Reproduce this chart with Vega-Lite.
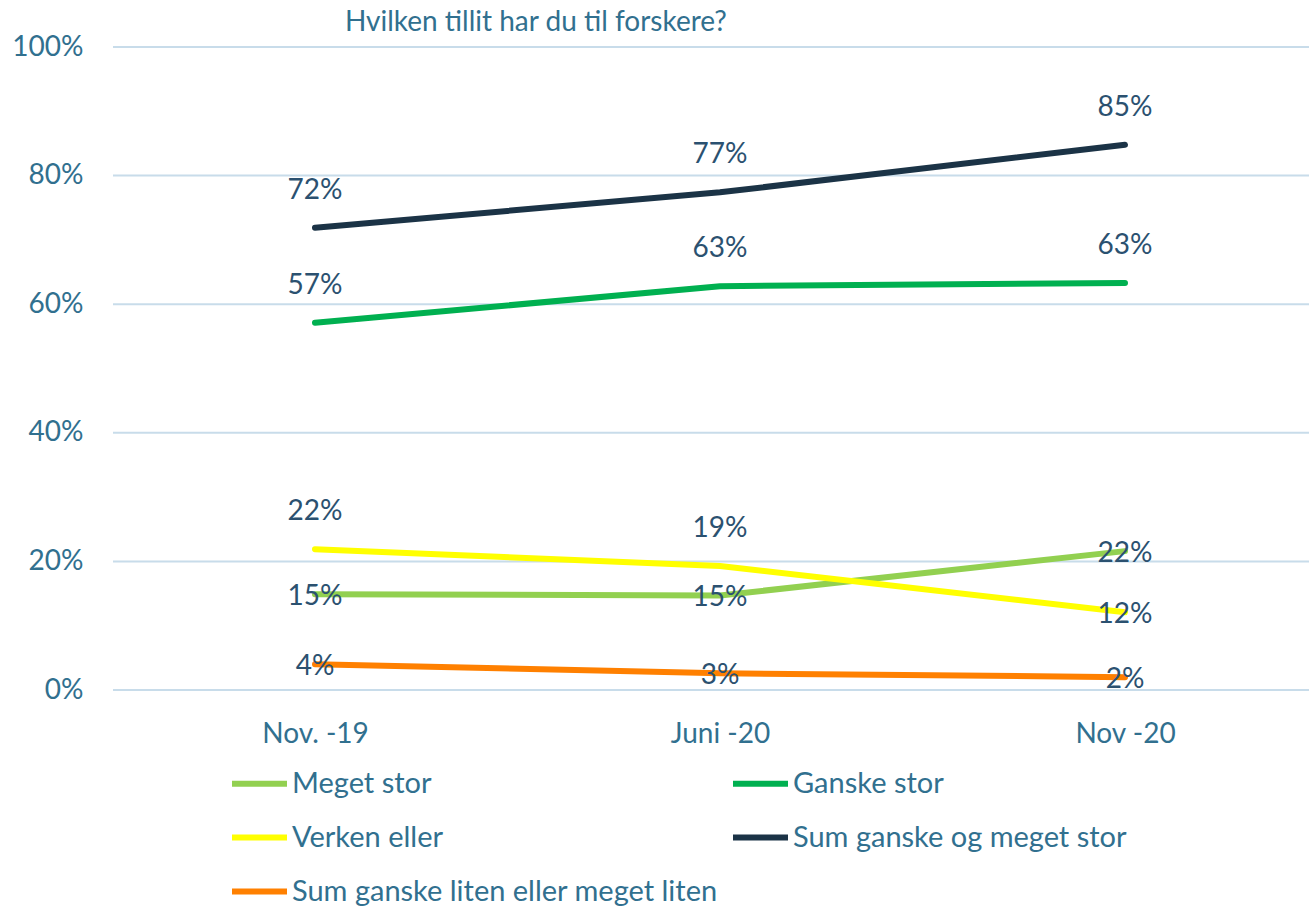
{
  "$schema": "https://vega.github.io/schema/vega-lite/v6.json",
  "width": 1196,
  "height": 643,
  "autosize": "none",
  "padding": {"left": 113, "top": 47, "right": 0, "bottom": 217},
  "background": "white",
  "config": {
    "font": "Lato",
    "view": {"stroke": null}
  },
  "title": {
    "text": "Hvilken tillit har du til forskere?",
    "anchor": "start",
    "frame": "group",
    "dx": 232,
    "offset": -4,
    "fontSize": 28,
    "fontWeight": "normal",
    "color": "#31708f",
    "font": "Lato"
  },
  "datasets": {
    "tillit": [
      {"periode": "Nov. -19", "serie": "Meget stor", "andel": 0.149},
      {"periode": "Juni -20", "serie": "Meget stor", "andel": 0.147},
      {"periode": "Nov -20", "serie": "Meget stor", "andel": 0.216},
      {"periode": "Nov. -19", "serie": "Ganske stor", "andel": 0.571},
      {"periode": "Juni -20", "serie": "Ganske stor", "andel": 0.628},
      {"periode": "Nov -20", "serie": "Ganske stor", "andel": 0.633},
      {"periode": "Nov. -19", "serie": "Verken eller", "andel": 0.219},
      {"periode": "Juni -20", "serie": "Verken eller", "andel": 0.193},
      {"periode": "Nov -20", "serie": "Verken eller", "andel": 0.121},
      {"periode": "Nov. -19", "serie": "Sum ganske og meget stor", "andel": 0.719},
      {"periode": "Juni -20", "serie": "Sum ganske og meget stor", "andel": 0.774},
      {"periode": "Nov -20", "serie": "Sum ganske og meget stor", "andel": 0.848},
      {"periode": "Nov. -19", "serie": "Sum ganske liten eller meget liten", "andel": 0.040},
      {"periode": "Juni -20", "serie": "Sum ganske liten eller meget liten", "andel": 0.026},
      {"periode": "Nov -20", "serie": "Sum ganske liten eller meget liten", "andel": 0.020}
    ],
    "gitter": [
      {"andel": 0}, {"andel": 0.2}, {"andel": 0.4}, {"andel": 0.6}, {"andel": 0.8}, {"andel": 1}
    ]
  },
  "layer": [
    {
      "data": {"name": "gitter"},
      "mark": {"type": "rule", "color": "#c8dcea", "strokeWidth": 2},
      "encoding": {
        "y": {
          "field": "andel",
          "type": "quantitative",
          "scale": {"domain": [0, 1], "nice": false, "zero": true},
          "axis": {
            "title": null,
            "format": ".0%",
            "values": [0, 0.2, 0.4, 0.6, 0.8, 1],
            "domain": false,
            "ticks": false,
            "tickSize": 0,
            "grid": false,
            "labelFontSize": 28,
            "labelColor": "#31708f",
            "labelPadding": 30,
            "labelFont": "Lato"
          }
        }
      }
    },
    {
      "data": {"name": "tillit"},
      "mark": {"type": "line", "strokeWidth": 6, "strokeCap": "round", "strokeJoin": "round"},
      "encoding": {
        "x": {
          "field": "periode",
          "type": "nominal",
          "sort": ["Nov. -19", "Juni -20", "Nov -20"],
          "scale": {"type": "point", "padding": 0, "range": [202, 1012]},
          "axis": {
            "title": null,
            "labelAngle": 0,
            "domain": false,
            "ticks": false,
            "tickSize": 0,
            "grid": false,
            "labelFontSize": 28,
            "labelColor": "#31708f",
            "labelPadding": 30,
            "labelFont": "Lato"
          }
        },
        "y": {"field": "andel", "type": "quantitative"},
        "color": {
          "field": "serie",
          "type": "nominal",
          "scale": {
            "domain": ["Meget stor", "Ganske stor", "Verken eller", "Sum ganske og meget stor", "Sum ganske liten eller meget liten"],
            "range": ["#92d050", "#00b050", "#ffff00", "#1b3346", "#ff8000"]
          },
          "legend": {
            "title": null,
            "orient": "none",
            "legendX": 116,
            "legendY": 706,
            "direction": "horizontal",
            "columns": 2,
            "symbolType": "stroke",
            "symbolSize": 3025,
            "symbolStrokeWidth": 6,
            "labelFontSize": 29,
            "labelColor": "#31708f",
            "labelFont": "Lato",
            "labelOffset": 2,
            "labelLimit": 700,
            "rowPadding": 8,
            "columnPadding": 3
          }
        }
      }
    },
    {
      "data": {"name": "tillit"},
      "transform": [
        {"filter": "datum.serie === 'Sum ganske og meget stor' || datum.serie === 'Ganske stor' || (datum.serie === 'Verken eller' && datum.periode !== 'Nov -20')"}
      ],
      "mark": {"type": "text", "fontSize": 28, "dy": -37, "color": "#2b5170", "font": "Lato"},
      "encoding": {
        "x": {"field": "periode", "type": "nominal", "sort": ["Nov. -19", "Juni -20", "Nov -20"], "scale": {"type": "point", "padding": 0, "range": [202, 1012]}},
        "y": {"field": "andel", "type": "quantitative"},
        "text": {"field": "andel", "type": "quantitative", "format": ".0%"}
      }
    },
    {
      "data": {"name": "tillit"},
      "transform": [
        {"filter": "!(datum.serie === 'Sum ganske og meget stor' || datum.serie === 'Ganske stor' || (datum.serie === 'Verken eller' && datum.periode !== 'Nov -20'))"}
      ],
      "mark": {"type": "text", "fontSize": 28, "dy": 3, "color": "#2b5170", "font": "Lato"},
      "encoding": {
        "x": {"field": "periode", "type": "nominal", "sort": ["Nov. -19", "Juni -20", "Nov -20"], "scale": {"type": "point", "padding": 0, "range": [202, 1012]}},
        "y": {"field": "andel", "type": "quantitative"},
        "text": {"field": "andel", "type": "quantitative", "format": ".0%"}
      }
    }
  ]
}
